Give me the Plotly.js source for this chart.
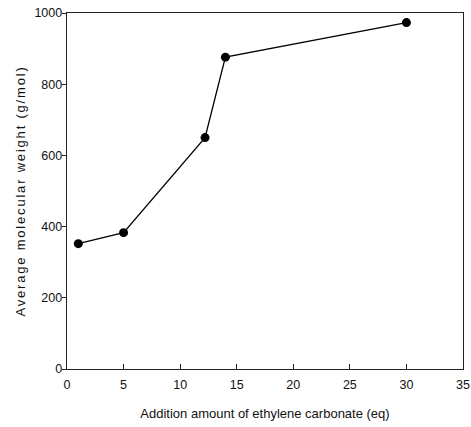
<!DOCTYPE html>
<html>
<head>
<meta charset="utf-8">
<script src="https://cdn.plot.ly/plotly-3.0.1.min.js"></script>
<style>html,body{margin:0;padding:0;background:#fff;}#chart{width:471px;height:427px;}</style>
</head>
<body>
<div id="chart"></div>
<script>
const ecAmount = [1, 5, 12.2, 14, 30];
const molWeight = [352, 383, 650, 876, 973];
const xTicks = [0, 5, 10, 15, 20, 25, 30, 35];
const yTicks = [0, 200, 400, 600, 800, 1000];
const xTitle = 'Addition amount of ethylene carbonate (eq)';
const yTitle = 'Average molecular weight (g/mol)';

const fontFam = '"Liberation Sans", Arial, sans-serif';

Plotly.newPlot('chart', [{
  x: ecAmount, y: molWeight, type: 'scatter', mode: 'lines+markers',
  line: {color: '#000', width: 1.3},
  marker: {color: '#000', size: 9}
}], {
  width: 471, height: 427,
  margin: {l: 67, r: 8, t: 13, b: 58},
  paper_bgcolor: '#fff', plot_bgcolor: '#fff',
  showlegend: false,
  font: {family: fontFam, color: '#111', size: 13},
  xaxis: {
    range: [0, 35], tickvals: xTicks, ticktext: xTicks.map(String),
    showgrid: false, zeroline: false, showline: true, mirror: true,
    linecolor: '#222', linewidth: 1.3,
    ticks: 'inside', ticklen: 5, tickcolor: '#222',
    ticklabelstandoff: 4,
    tickfont: {size: 12.5, family: fontFam},
    title: {text: xTitle, font: {size: 13, family: fontFam}, standoff: 17}
  },
  yaxis: {
    range: [0, 1000], tickvals: yTicks, ticktext: yTicks.map(String),
    showgrid: false, zeroline: false, showline: true, mirror: true,
    linecolor: '#222', linewidth: 1.3,
    ticks: 'outside', ticklen: 4, tickcolor: '#222',
    ticklabelstandoff: -3,
    tickfont: {size: 12.5, family: fontFam},
    title: {text: yTitle, font: {size: 13, family: fontFam}, standoff: 5}
  }
}, {displayModeBar: false, staticPlot: true}).then(function (gd) {
  var t = gd.querySelector('.ytitle');
  if (t) { t.style.letterSpacing = '1.8px'; }
});
</script>
</body>
</html>
